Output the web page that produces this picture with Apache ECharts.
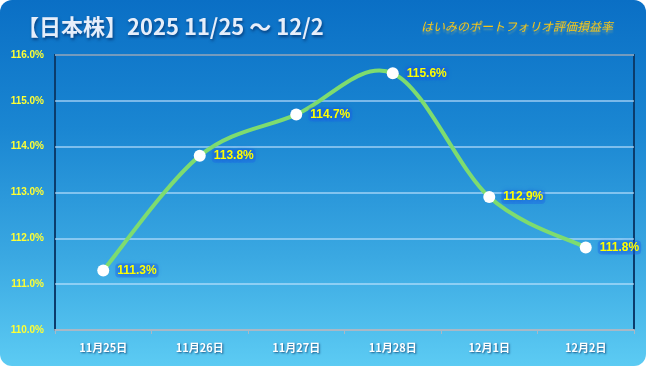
<!DOCTYPE html>
<html>
<head>
<meta charset="utf-8">
<script src="https://cdn.jsdelivr.net/npm/echarts@6/dist/echarts.min.js"></script>
<style>
html,body{margin:0;padding:0;background:#ffffff;}
#wrap{position:absolute;left:0;top:0;width:646px;height:366px;border-radius:12px;overflow:hidden;
background:linear-gradient(to bottom,#0a6fc5 0%,#1a86d2 35%,#3aa8e2 70%,#5ccbf3 100%);}
#chart{width:646px;height:366px;}
</style>
</head>
<body>
<div id="wrap"><div id="chart"></div></div>
<script>
const categories = ['11月25日','11月26日','11月27日','11月28日','12月1日','12月2日'];
const values = [111.3, 113.8, 114.7, 115.6, 112.9, 111.8];
const yTicks = {min:110, max:116, interval:1};
const titleText = '【日本株】2025 11/25 ～ 12/2';
const subtitleText = 'はいみのポートフォリオ評価損益率';

const chart = echarts.init(document.getElementById('chart'), null, {renderer:'canvas'});

function renderSegment(params, api) {
  const i = params.dataIndex;
  const n = values.length;
  if (i >= n - 1) return null;
  const P = k => api.coord([Math.max(0, Math.min(n - 1, k)), values[Math.max(0, Math.min(n - 1, k))]]);
  const p0 = P(i - 1), p1 = P(i), p2 = P(i + 1), p3 = P(i + 2);
  const t = 1 / 6;
  return {
    type: 'bezierCurve',
    shape: {
      x1: p1[0], y1: p1[1], x2: p2[0], y2: p2[1],
      cpx1: p1[0] + (p2[0] - p0[0]) * t, cpy1: p1[1] + (p2[1] - p0[1]) * t,
      cpx2: p2[0] - (p3[0] - p1[0]) * t, cpy2: p2[1] - (p3[1] - p1[1]) * t
    },
    style: { stroke: '#7edc6f', lineWidth: 4, fill: null, lineCap: 'round' }
  };
}

chart.setOption({
  backgroundColor:'transparent',
  animation:false,
  title:[{
    text:titleText, left:12, top:11,
    textStyle:{fontFamily:'Noto Sans CJK JP', fontSize:22, fontWeight:'bold', color:'#e6eefa',
      textShadowColor:'rgba(0,30,80,0.6)', textShadowBlur:3, textShadowOffsetX:1, textShadowOffsetY:2}
  },{
    text:subtitleText, left:416, top:15,
    textStyle:{fontFamily:'Noto Sans CJK JP', fontSize:12, fontStyle:'italic', fontWeight:'normal', color:'#f5c61a',
      textShadowColor:'rgba(255,220,80,0.35)', textShadowBlur:2, textShadowOffsetY:3}
  }],
  grid:{left:55, right:12, top:55, bottom:36, show:true, borderColor:'#0b3c6c', borderWidth:2, backgroundColor:'transparent'},
  xAxis:{
    type:'category', data:categories, boundaryGap:true,
    axisLine:{show:true, lineStyle:{color:'#a9b8c6', width:2}},
    axisTick:{show:true, alignWithLabel:false, length:4, lineStyle:{color:'#a9b8c6'}},
    axisLabel:{color:'#ffffff', fontSize:11, fontWeight:'bold', fontFamily:'Noto Sans CJK JP', margin:12,
      textShadowColor:'rgba(0,40,90,0.7)', textShadowBlur:2, textShadowOffsetX:1, textShadowOffsetY:1},
    splitLine:{show:false}
  },
  yAxis:{
    type:'value', min:yTicks.min, max:yTicks.max, interval:yTicks.interval,
    axisLine:{show:false}, axisTick:{show:false},
    axisLabel:{color:'#ffff33', fontSize:10, fontWeight:'bold', fontFamily:'Liberation Sans', margin:11,
      formatter:v=>v.toFixed(1)+'%'},
    splitLine:{show:true, lineStyle:{color:'rgba(200,230,255,0.75)', width:1.5}}
  },
  series:[{
    type:'custom', renderItem:renderSegment,
    data: values.map((v,i)=>[i,v]), encode:{x:0, y:1}, z:2, silent:true
  },{
    type:'line', data:values,
    lineStyle:{width:0, opacity:0},
    symbol:'circle', symbolSize:12,
    itemStyle:{color:'#ffffff', borderWidth:0},
    label:{show:true, position:'right', distance:6, formatter:p=>p.value.toFixed(1)+'%',
      color:'#ffff00', fontSize:12, fontWeight:'bold', fontFamily:'Liberation Sans',
      textShadowColor:'#1050d0', textShadowBlur:5,
      backgroundColor:'rgba(30,100,230,0.4)', padding:[1,2], borderRadius:4},
    z:3
  }]
});
</script>
</body>
</html>
